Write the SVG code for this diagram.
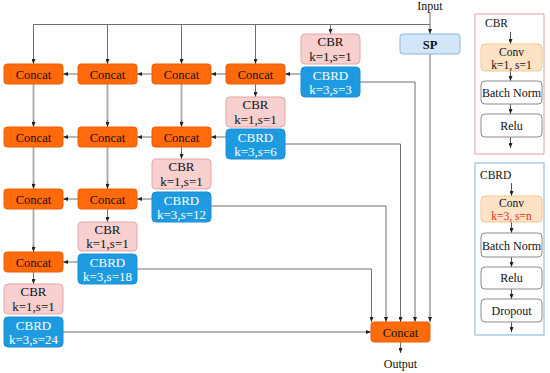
<svg xmlns="http://www.w3.org/2000/svg" width="550" height="373" viewBox="0 0 550 373" font-family="'Liberation Serif', 'DejaVu Serif', serif">
<style>
text{font-family:'Liberation Serif','DejaVu Serif',serif;fill:#111}
.c{fill:#FF6A0D;stroke:#EC5F05;stroke-width:1}
.r{fill:#F8D0D0;stroke:#E2A6A6;stroke-width:1}
.d{fill:#1E9BE0;stroke:#1B8DD2;stroke-width:1}
.sp{fill:#D3E5F8;stroke:#8DB4DC;stroke-width:1}
.cv{fill:#FCE3C6;stroke:#F1C98C;stroke-width:1}
.pl{fill:#fff;stroke:#8a8a8a;stroke-width:1}
.ct{font-size:12.5px;text-anchor:middle}
.bt{font-size:13px;text-anchor:middle}
.wt{fill:#fff}
.pt{font-size:12px;text-anchor:middle}
.lt{font-size:11.5px;text-anchor:middle}
.ln{fill:none;stroke:#6f6f6f;stroke-width:1}
.lv{fill:none;stroke:#a9a9a9;stroke-width:1.8}
.ls{fill:none;stroke:#555;stroke-width:1}
</style>
<defs>
<marker id="ah" markerWidth="5" markerHeight="4" refX="5" refY="2" orient="auto" markerUnits="userSpaceOnUse">
<path d="M0,0 L5,2 L0,4 z" fill="#222"/>
</marker>
</defs>

<g id="connectors">
<path class="ln" d="M430,12 V34" marker-end="url(#ah)"/>
<path class="ln" d="M430,24.5 H33.5 V64" marker-end="url(#ah)"/>
<path class="ln" d="M107.5,24.5 V64" marker-end="url(#ah)"/>
<path class="ln" d="M181.5,24.5 V64" marker-end="url(#ah)"/>
<path class="ln" d="M255.5,24.5 V64" marker-end="url(#ah)"/>
<path class="ln" d="M330.5,24.5 V34" marker-end="url(#ah)"/>
<path class="ln" d="M301,74 H285" marker-end="url(#ah)"/>
<path class="ln" d="M226,74 H211" marker-end="url(#ah)"/>
<path class="ln" d="M152,74 H137" marker-end="url(#ah)"/>
<path class="ln" d="M78,74 H63" marker-end="url(#ah)"/>
<path class="ln" d="M226,137 H211" marker-end="url(#ah)"/>
<path class="ln" d="M152,137 H137" marker-end="url(#ah)"/>
<path class="ln" d="M78,137 H63" marker-end="url(#ah)"/>
<path class="ln" d="M152,199 H137" marker-end="url(#ah)"/>
<path class="ln" d="M78,199 H63" marker-end="url(#ah)"/>
<path class="ln" d="M78,262 H63" marker-end="url(#ah)"/>
<path class="lv" d="M33.5,84 V123"/>
<path class="lv" d="M33.5,147 V185"/>
<path class="lv" d="M33.5,209 V248"/>
<path class="ln" d="M33.5,272 V284" marker-end="url(#ah)"/>
<path class="lv" d="M107.5,84 V123"/>
<path class="lv" d="M107.5,147 V185"/>
<path class="ln" d="M107.5,209 V222" marker-end="url(#ah)"/>
<path class="lv" d="M181.5,84 V123"/>
<path class="ln" d="M181.5,147 V159" marker-end="url(#ah)"/>
<path class="ln" d="M255.5,84 V97" marker-end="url(#ah)"/>
<path class="ln" d="M33.5,120 V127" marker-end="url(#ah)"/>
<path class="ln" d="M33.5,182 V189" marker-end="url(#ah)"/>
<path class="ln" d="M33.5,245 V252" marker-end="url(#ah)"/>
<path class="ln" d="M107.5,120 V127" marker-end="url(#ah)"/>
<path class="ln" d="M107.5,182 V189" marker-end="url(#ah)"/>
<path class="ln" d="M181.5,120 V127" marker-end="url(#ah)"/>
<path class="ln" d="M430,54 V322" marker-end="url(#ah)"/>
<path class="ln" d="M360,82 H415 V322" marker-end="url(#ah)"/>
<path class="ln" d="M285,144 H400.5 V322" marker-end="url(#ah)"/>
<path class="ln" d="M211,206 H386 V322" marker-end="url(#ah)"/>
<path class="ln" d="M137,269 H371.5 V322" marker-end="url(#ah)"/>
<path class="ln" d="M63,332 H371" marker-end="url(#ah)"/>
<path class="ln" d="M400.5,342 V353" marker-end="url(#ah)"/>
<path class="ls" d="M510.5,32 V44" marker-end="url(#ah)"/>
<path class="ls" d="M510.5,71 V81" marker-end="url(#ah)"/>
<path class="ls" d="M510.5,104 V114" marker-end="url(#ah)"/>
<path class="ls" d="M510.5,137 V148" marker-end="url(#ah)"/>
<path class="ls" d="M511.5,183 V196" marker-end="url(#ah)"/>
<path class="ls" d="M511.5,222 V233" marker-end="url(#ah)"/>
<path class="ls" d="M511.5,257 V267" marker-end="url(#ah)"/>
<path class="ls" d="M511.5,289 V299" marker-end="url(#ah)"/>
<path class="ls" d="M511.5,322 V332" marker-end="url(#ah)"/>
</g>

<g id="input"><text class="pt" x="430" y="10">Input</text></g>
<g id="output"><text class="pt" x="400.5" y="368">Output</text></g>

<g id="sp"><rect class="sp" x="400" y="34" width="60" height="20" rx="3"/><text class="ct" x="430" y="48.5" font-weight="bold">SP</text></g>

<g id="concat11"><rect class="c" x="4" y="64" width="59" height="20" rx="3"/><text class="ct" x="33.5" y="78.5">Concat</text></g>
<g id="concat12"><rect class="c" x="78" y="64" width="59" height="20" rx="3"/><text class="ct" x="107.5" y="78.5">Concat</text></g>
<g id="concat13"><rect class="c" x="152" y="64" width="59" height="20" rx="3"/><text class="ct" x="181.5" y="78.5">Concat</text></g>
<g id="concat14"><rect class="c" x="226" y="64" width="59" height="20" rx="3"/><text class="ct" x="255.5" y="78.5">Concat</text></g>
<g id="concat21"><rect class="c" x="4" y="127" width="59" height="20" rx="3"/><text class="ct" x="33.5" y="141.5">Concat</text></g>
<g id="concat22"><rect class="c" x="78" y="127" width="59" height="20" rx="3"/><text class="ct" x="107.5" y="141.5">Concat</text></g>
<g id="concat23"><rect class="c" x="152" y="127" width="59" height="20" rx="3"/><text class="ct" x="181.5" y="141.5">Concat</text></g>
<g id="concat31"><rect class="c" x="4" y="189" width="59" height="20" rx="3"/><text class="ct" x="33.5" y="203.5">Concat</text></g>
<g id="concat32"><rect class="c" x="78" y="189" width="59" height="20" rx="3"/><text class="ct" x="107.5" y="203.5">Concat</text></g>
<g id="concat41"><rect class="c" x="4" y="252" width="59" height="20" rx="3"/><text class="ct" x="33.5" y="266.5">Concat</text></g>
<g id="concatOut"><rect class="c" x="371" y="322" width="59" height="20" rx="3"/><text class="ct" x="400.5" y="336.5">Concat</text></g>

<g id="cbr5"><rect class="r" x="301" y="34" width="59" height="30" rx="4"/><text class="bt" x="330.5" y="46">CBR</text><text class="bt" x="330.5" y="60.5">k=1,s=1</text></g>
<g id="cbrd5"><rect class="d" x="301" y="67" width="59" height="30" rx="4"/><text class="bt wt" x="330.5" y="79.5">CBRD</text><text class="bt wt" x="330.5" y="93.5">k=3,s=3</text></g>
<g id="cbr4"><rect class="r" x="226" y="97" width="59" height="30" rx="4"/><text class="bt" x="255.5" y="109">CBR</text><text class="bt" x="255.5" y="123.5">k=1,s=1</text></g>
<g id="cbrd4"><rect class="d" x="226" y="129" width="59" height="30" rx="4"/><text class="bt wt" x="255.5" y="141.5">CBRD</text><text class="bt wt" x="255.5" y="155.5">k=3,s=6</text></g>
<g id="cbr3"><rect class="r" x="152" y="159" width="59" height="30" rx="4"/><text class="bt" x="181.5" y="171">CBR</text><text class="bt" x="181.5" y="185.5">k=1,s=1</text></g>
<g id="cbrd3"><rect class="d" x="152" y="192" width="59" height="30" rx="4"/><text class="bt wt" x="181.5" y="204.5">CBRD</text><text class="bt wt" x="181.5" y="218.5">k=3,s=12</text></g>
<g id="cbr2"><rect class="r" x="78" y="222" width="59" height="29" rx="4"/><text class="bt" x="107.5" y="234">CBR</text><text class="bt" x="107.5" y="248">k=1,s=1</text></g>
<g id="cbrd2"><rect class="d" x="78" y="254" width="59" height="30" rx="4"/><text class="bt wt" x="107.5" y="266.5">CBRD</text><text class="bt wt" x="107.5" y="280.5">k=3,s=18</text></g>
<g id="cbr1"><rect class="r" x="4" y="284" width="59" height="30" rx="4"/><text class="bt" x="33.5" y="296">CBR</text><text class="bt" x="33.5" y="310.5">k=1,s=1</text></g>
<g id="cbrd1"><rect class="d" x="4" y="317" width="59" height="30" rx="4"/><text class="bt wt" x="33.5" y="329.5">CBRD</text><text class="bt wt" x="33.5" y="343.5">k=3,s=24</text></g>

<g id="legendCBR">
<rect x="475" y="14" width="69" height="140" fill="none" stroke="#E0A0A0" stroke-width="1"/>
<text x="485" y="26.5" font-size="11.5px">CBR</text>
<rect class="cv" x="481" y="44" width="61" height="27" rx="4"/>
<text class="lt" x="511.5" y="56">Conv</text>
<text class="lt" x="511.5" y="68.5">k=1, s=1</text>
<rect class="pl" x="481" y="81" width="61" height="23" rx="4"/>
<text class="pt" x="511.5" y="97">Batch Norm</text>
<rect class="pl" x="481" y="114" width="61" height="23" rx="4"/>
<text class="pt" x="511.5" y="130">Relu</text>
</g>

<g id="legendCBRD">
<rect x="475" y="163" width="69" height="172" fill="none" stroke="#7FB2DC" stroke-width="1"/>
<text x="480" y="179" font-size="11.5px">CBRD</text>
<rect class="cv" x="481" y="196" width="61" height="26" rx="4"/>
<text class="lt" x="511.5" y="206.5">Conv</text>
<text class="lt" x="511.5" y="219.5" style="fill:#E8262B">k=3, s=n</text>
<rect class="pl" x="481" y="233" width="61" height="24" rx="4"/>
<text class="pt" x="511.5" y="249.5">Batch Norm</text>
<rect class="pl" x="481" y="267" width="61" height="22" rx="4"/>
<text class="pt" x="511.5" y="282">Relu</text>
<rect class="pl" x="481" y="299" width="61" height="23" rx="4"/>
<text class="pt" x="511.5" y="314.5">Dropout</text>
</g>
</svg>
